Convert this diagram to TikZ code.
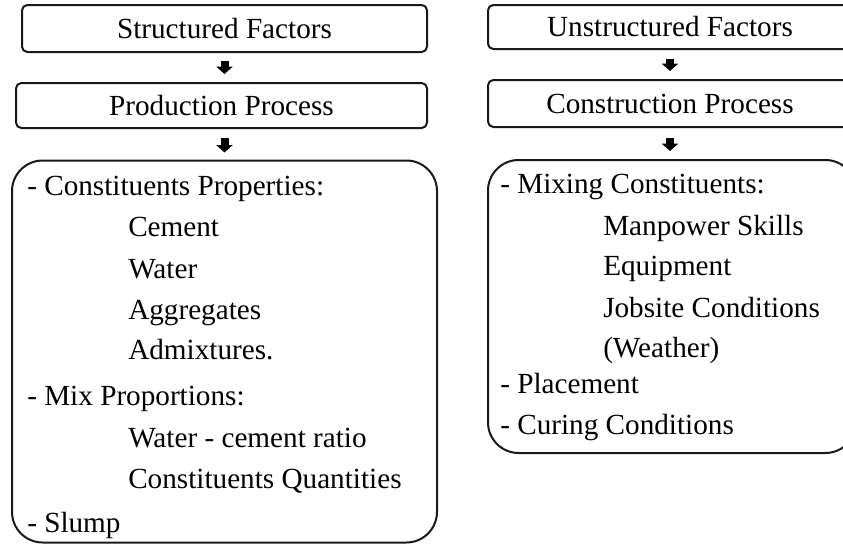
\documentclass[tikz,border=0pt]{standalone}
\usepackage{fontspec}
\setmainfont{Liberation Serif}
\usetikzlibrary{arrows.meta}
\begin{document}
\begin{tikzpicture}[x=0.75pt,y=-0.75pt,
  every node/.style={font=\fontsize{21.9}{26}\selectfont, inner sep=0pt},
  topbox/.style={draw=black!90, line width=1.5pt, rounded corners=4pt},
  bigbox/.style={draw=black!90, line width=1.5pt, rounded corners=23pt},
  dn/.style={-{Triangle[width=12pt,length=5.5pt]}, line width=6pt},
  item/.style={anchor=base west}]
\clip (0,0) rectangle (843,546);
% left column
\node[topbox, minimum width=303.75pt, minimum height=35.25pt] (sf) at (224.5,28.5) {Structured Factors};
\node[topbox, minimum width=308.25pt, minimum height=33.75pt] (pp) at (221.5,105.5) {Production Process};
\node[bigbox, minimum width=318.75pt, minimum height=286.5pt] (lb) at (224.5,351.5) {};
\draw[dn, shorten <=6pt, shorten >=6pt] (sf.south) -- (sf.south |- pp.north);
\draw[dn, shorten <=6.75pt, shorten >=5.25pt] (sf.south |- pp.south) -- (sf.south |- lb.north);
\node[item] (l1) at (27,195) {- Constituents Properties:};
\node[item] (l2) at (128,236) {Cement};
\node[item] (l3) at (128,278) {Water};
\node[item] (l4) at (128,319) {Aggregates};
\node[item] (l5) at (128,359) {Admixtures.};
\node[item] (l6) at (27,405) {- Mix Proportions:};
\node[item] (l7) at (128,447) {Water - cement ratio};
\node[item] (l8) at (128,488) {Constituents Quantities};
\node[item] (l9) at (27,532) {- Slump};
% right column
\node[topbox, minimum width=273pt, minimum height=33pt] (uf) at (670,27) {Unstructured Factors};
\node[topbox, minimum width=273pt, minimum height=35.25pt] (cp) at (670,103.5) {Construction Process};
\node[bigbox, minimum width=276pt, minimum height=219.75pt] (rb) at (672,306.5) {};
\draw[dn, shorten <=6.75pt, shorten >=6pt] (uf.south) -- (cp.north);
\draw[dn, shorten <=7.5pt, shorten >=6pt] (cp.south) -- (cp.south |- rb.north);
\node[item] (r1) at (500,193) {- Mixing Constituents:};
\node[item] (r2) at (603,235) {Manpower Skills};
\node[item] (r3) at (603,275) {Equipment};
\node[item] (r4) at (603,317) {Jobsite Conditions};
\node[item] (r5) at (603,357) {(Weather)};
\node[item] (r6) at (500,393) {- Placement};
\node[item] (r7) at (500,434) {- Curing Conditions};
\end{tikzpicture}
\end{document}
